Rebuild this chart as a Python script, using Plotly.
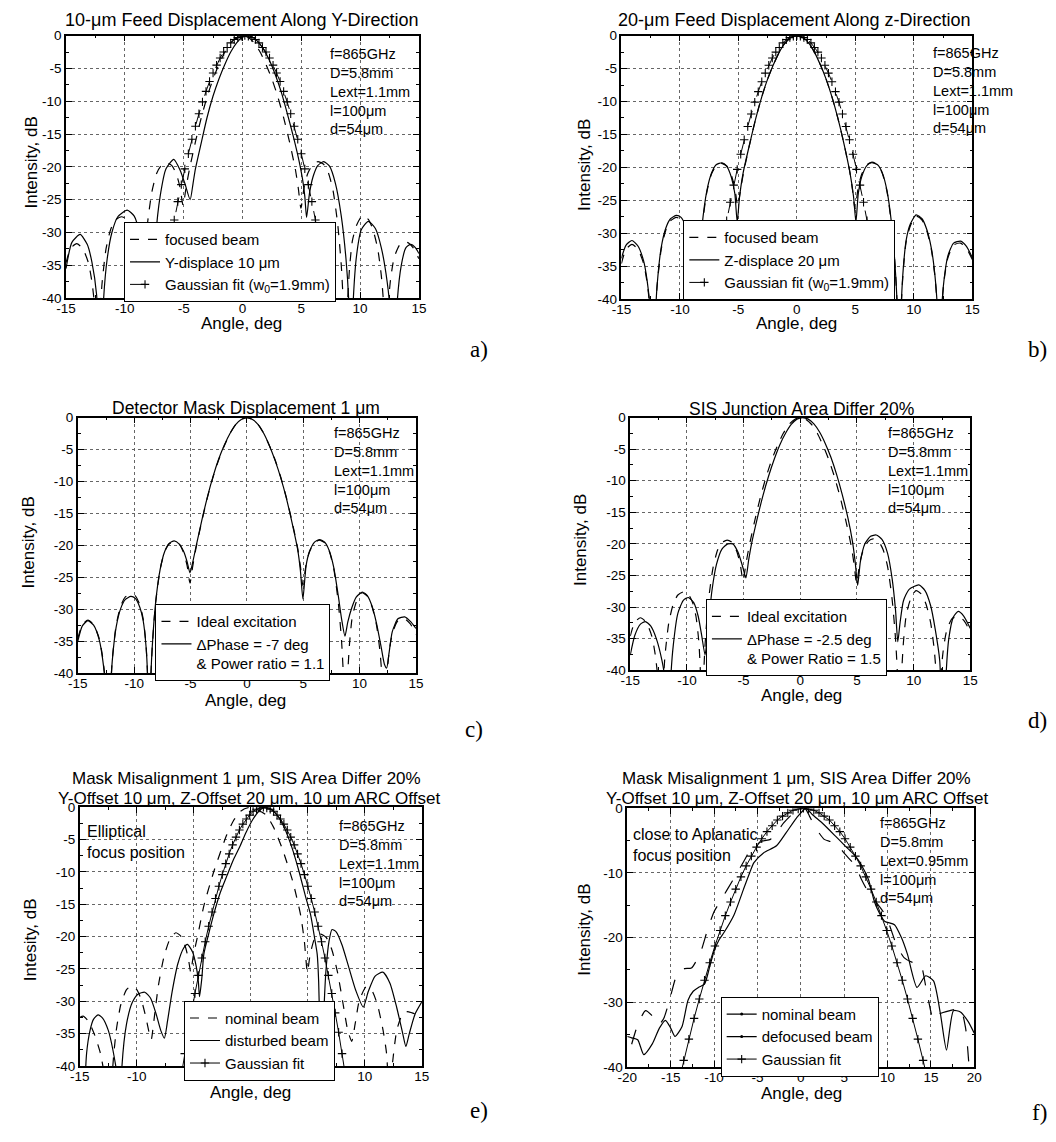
import plotly.graph_objects as go

W, H = 1056, 1142
FONT = "Liberation Sans, Arial, sans-serif"
SERIF = "Liberation Serif, Times New Roman, serif"

# ---------------- data (angle deg, intensity dB) ----------------
ideal_pts = [(-15.0,-34.6),(-14.6,-32.4),(-14.1,-31.7),(-13.6,-32.4),(-13.1,-34.6),(-12.8,-37.5),
             (-12.5,-42.5),(-12.3,-55),(-12.1,-43),(-11.95,-38),(-11.6,-32.5),(-11.2,-29.5),
             (-10.8,-28.1),(-10.3,-27.6),(-9.9,-27.9),(-9.5,-29.3),(-9.2,-31.5),(-8.95,-35.5),
             (-8.8,-41),(-8.7,-55),(-8.55,-42),(-8.4,-36),(-8.1,-29),(-7.7,-23.8),(-7.3,-21.0),
             (-6.9,-19.8),(-6.45,-19.4),(-6.0,-19.8),(-5.6,-21.2),(-5.3,-23.2),(-5.05,-25.9),
             (-4.8,-23.2),(-4.5,-20.3),(-4.0,-16.2),(-3.5,-12.5),(-3.0,-9.3),(-2.5,-6.6),
             (-2.0,-4.4),(-1.5,-2.5),(-1.0,-1.1),(-0.5,-0.3),(0.0,0.0),(0.5,-0.3),(1.0,-1.1),
             (1.5,-2.5),(2.0,-4.4),(2.5,-6.6),(3.0,-9.3),(3.5,-12.5),(4.0,-16.2),(4.5,-20.4),
             (4.75,-23.3),(4.97,-26.3),(5.25,-23.0),(5.55,-21.0),(6.0,-19.6),(6.42,-19.2),
             (6.9,-19.6),(7.3,-20.9),(7.7,-23.6),(8.1,-28.8),(8.4,-35),(8.6,-42),(8.75,-55),
             (8.9,-42),(9.1,-35.5),(9.35,-31.2),(9.7,-28.9),(10.2,-27.4),(10.7,-28.0),
             (11.1,-29.6),(11.5,-32.5),(11.8,-36.5),(12.0,-41),(12.2,-55),(12.4,-41),
             (12.6,-37),(12.9,-33.8),(13.4,-31.8),(14.0,-31.5),(14.5,-32.3),(15.0,-34.0)]

ydisp_a_pts = [(-15.0,-35.5),(-14.5,-31.5),(-13.8,-30.3),(-13.2,-31.8),(-12.8,-34.5),(-12.4,-39.5),
               (-12.05,-55),(-11.8,-40),(-11.5,-34),(-11.1,-30),(-10.6,-27.6),(-9.8,-26.6),
               (-9.2,-27.5),(-8.7,-30.5),(-8.3,-35.5),(-8.05,-42),(-7.9,-55),(-7.7,-41),
               (-7.4,-31),(-7.0,-24.5),(-6.5,-20.3),(-5.84,-18.85),(-5.3,-20.5),(-4.9,-22.5),
               (-4.45,-25.0),(-4.2,-22.5),(-4.0,-20.3),(-3.5,-16.3),(-3.0,-12.4),(-2.5,-9.2),
               (-2.0,-6.6),(-1.5,-4.4),(-1.0,-2.5),(-0.5,-1.1),(0.0,-0.25),(0.4,0.0),(0.8,-0.2),
               (1.3,-0.9),(1.8,-2.1),(2.3,-3.8),(2.8,-6.0),(3.3,-8.6),(3.8,-11.8),(4.3,-15.2),
               (4.8,-19.0),(5.1,-21.8),(5.3,-24.5),(5.45,-27.7),(5.7,-24.0),(6.0,-21.5),
               (6.4,-19.8),(6.9,-19.2),(7.4,-19.9),(7.9,-22.5),(8.4,-27.5),(8.8,-34),(9.05,-41),
               (9.2,-55),(9.4,-41),(9.7,-33.5),(10.1,-29.6),(10.7,-28.3),(11.3,-29.4),
               (11.8,-32.3),(12.3,-37.5),(12.65,-44),(12.9,-55),(13.1,-42),(13.5,-35),
               (13.9,-32.3),(14.3,-31.8),(14.7,-32.3),(15.0,-33.2)]

zdisp_b_pts = [(-15.0,-33.8),(-14.6,-31.8),(-14.1,-31.1),(-13.6,-31.9),(-13.1,-34.2),(-12.8,-37.2),
               (-12.5,-42.5),(-12.3,-55),(-12.1,-43),(-11.95,-38),(-11.6,-32.2),(-11.2,-29.2),
               (-10.8,-27.8),(-10.3,-27.3),(-9.9,-27.6),(-9.5,-29.0),(-9.2,-31.2),(-8.95,-35.3),
               (-8.8,-41),(-8.7,-55),(-8.55,-42),(-8.4,-36),(-8.1,-28.8),(-7.7,-23.6),(-7.3,-20.9),
               (-6.9,-19.6),(-6.4,-19.3),(-6.0,-19.8),(-5.6,-21.5),(-5.3,-24.0),(-5.1,-28.3),
               (-4.9,-24.5),(-4.6,-20.9),(-4.0,-16.2),(-3.5,-12.5),(-3.0,-9.3),(-2.5,-6.6),
               (-2.0,-4.4),(-1.5,-2.5),(-1.0,-1.1),(-0.5,-0.3),(0.0,0.0),(0.5,-0.3),(1.0,-1.1),
               (1.5,-2.5),(2.0,-4.4),(2.5,-6.6),(3.0,-9.3),(3.5,-12.5),(4.0,-16.2),(4.55,-20.9),
               (4.85,-24.5),(5.05,-28.3),(5.25,-24.0),(5.55,-21.4),(6.0,-19.7),(6.4,-19.3),
               (6.9,-19.6),(7.3,-20.8),(7.7,-23.5),(8.1,-28.6),(8.4,-35),(8.6,-42),(8.75,-55),
               (8.9,-42),(9.1,-35.3),(9.35,-31.0),(9.7,-28.6),(10.2,-27.2),(10.7,-27.8),
               (11.1,-29.4),(11.5,-32.3),(11.8,-36.3),(12.0,-41),(12.2,-55),(12.4,-41),
               (12.6,-36.8),(12.9,-33.5),(13.4,-31.5),(14.0,-31.2),(14.5,-32.0),(15.0,-33.7)]

dphase_c_pts = [(-15.0,-35.0),(-14.6,-32.6),(-14.1,-31.8),(-13.6,-32.5),(-13.1,-34.8),(-12.8,-37.8),
                (-12.5,-43),(-12.3,-55),(-12.1,-43),(-11.95,-38.2),(-11.6,-32.8),(-11.2,-29.9),
                (-10.8,-28.5),(-10.3,-28.0),(-9.9,-28.3),(-9.5,-29.7),(-9.2,-31.8),(-8.95,-35.8),
                (-8.8,-41),(-8.7,-55),(-8.55,-42),(-8.4,-36),(-8.1,-29),(-7.7,-23.8),(-7.3,-21.0),
                (-6.9,-19.7),(-6.45,-19.3),(-6.0,-19.8),(-5.6,-21.0),(-5.3,-22.6),(-5.05,-24.3),
                (-4.8,-22.6),(-4.5,-20.1),(-4.0,-16.1),(-3.5,-12.4),(-3.0,-9.2),(-2.5,-6.5),
                (-2.0,-4.3),(-1.5,-2.5),(-1.0,-1.1),(-0.5,-0.3),(0.0,0.0),(0.5,-0.3),(1.0,-1.1),
                (1.5,-2.5),(2.0,-4.4),(2.5,-6.7),(3.0,-9.4),(3.5,-12.6),(4.0,-16.4),(4.5,-20.6),
                (4.75,-24.0),(4.97,-28.4),(5.25,-23.2),(5.55,-21.0),(6.0,-19.5),(6.45,-19.1),
                (6.9,-19.5),(7.3,-20.8),(7.7,-23.4),(8.1,-27.8),(8.4,-31.5),(8.7,-34.2),
                (8.95,-32.0),(9.3,-29.8),(9.7,-28.1),(10.25,-27.3),(10.7,-27.9),(11.1,-29.5),
                (11.5,-32.2),(11.9,-35.8),(12.2,-38.6),(12.4,-39.2),(12.6,-37.0),(12.9,-33.5),
                (13.4,-31.5),(14.0,-31.2),(14.5,-31.9),(15.0,-33.0)]

dphase_d_pts = [(-15.0,-37.6),(-14.6,-34.5),(-14.1,-32.7),(-13.67,-32.3),(-13.2,-33.0),(-12.7,-35.0),
                (-12.2,-38.5),(-11.9,-42),(-11.65,-55),(-11.45,-42),(-11.2,-36),(-10.8,-31),
                (-10.3,-28.9),(-9.86,-28.5),(-9.4,-29.3),(-9.0,-31.5),(-8.7,-34.5),(-8.4,-37.6),
                (-8.15,-33.5),(-7.8,-27.5),(-7.4,-23.3),(-6.9,-20.8),(-6.4,-20.0),(-5.95,-20.0),
                (-5.5,-21.3),(-5.1,-23.5),(-4.8,-25.4),(-4.55,-22.5),(-4.3,-20.0),(-3.8,-16.0),
                (-3.3,-12.4),(-2.8,-9.3),(-2.3,-6.6),(-1.8,-4.3),(-1.3,-2.5),(-0.8,-1.1),
                (-0.3,-0.25),(0.2,0.0),(0.7,-0.25),(1.2,-1.0),(1.7,-2.3),(2.2,-4.1),(2.7,-6.3),
                (3.2,-9.0),(3.7,-12.2),(4.2,-15.9),(4.6,-19.6),(4.85,-23.0),(5.06,-26.6),
                (5.3,-22.8),(5.7,-20.0),(6.2,-18.8),(6.7,-18.6),(7.2,-19.3),(7.7,-21.5),
                (8.1,-25.5),(8.4,-30.5),(8.6,-35.5),(8.8,-32.5),(9.1,-29.0),(9.6,-27.2),
                (10.46,-26.5),(11.0,-27.4),(11.5,-29.8),(11.9,-33.5),(12.3,-38.5),(12.6,-55),
                (12.85,-41),(13.1,-35),(13.5,-31.6),(13.93,-30.7),(14.4,-31.4),(15.0,-33.4)]

nominal_e_pts = [(-15.0,-32.5),(-14.7,-32.3),(-14.2,-33.2),(-13.7,-35.2),(-13.2,-38.0),(-12.8,-42),
                 (-12.4,-55),(-12.1,-40),(-11.8,-34.5),(-11.4,-30.5),(-10.9,-28.2),(-10.45,-27.6),
                 (-10.0,-28.2),(-9.6,-29.8),(-9.2,-32.5),(-8.9,-35.0),(-8.73,-35.9),(-8.5,-33),
                 (-8.1,-27.5),(-7.6,-23.0),(-7.1,-20.4),(-6.57,-19.4),(-6.1,-20.0),(-5.7,-21.8),
                 (-5.45,-23.7),(-5.27,-25.5),(-5.05,-23.0),(-4.7,-20.2),(-4.1,-15.1),(-3.26,-10.0),
                 (-2.6,-6.6),(-2.1,-4.2),(-1.5,-2.0),(-0.9,-0.6),(-0.15,0.0),(0.6,-0.4),(1.35,-1.2),
                 (2.0,-3.1),(2.8,-6.6),(3.7,-11.6),(4.38,-16.8),(4.7,-20.8),(4.96,-25.5),(5.2,-22.8),
                 (5.6,-20.3),(6.1,-19.6),(6.6,-20.1),(7.1,-22.0),(7.6,-25.5),(8.1,-30.5),(8.5,-34.5),
                 (8.85,-36.2),(9.15,-33.5),(9.5,-30.0),(10.1,-27.8),(10.6,-28.3),(11.1,-30.5),
                 (11.6,-34.5),(11.9,-38),(12.16,-45),(12.4,-40),(12.8,-34.5),(13.3,-32.0),
                 (13.75,-31.6),(14.3,-31.9),(15.0,-32.4)]

disturbed_e_pts = [(-14.6,-45),(-14.4,-38),(-14.1,-34.5),(-13.8,-32.8),(-13.4,-32.1),(-13.0,-32.6),
                   (-12.5,-34.5),(-12.1,-37.5),(-11.7,-42),(-11.5,-55),(-11.3,-40),(-10.9,-33.5),
                   (-10.4,-30.2),(-9.9,-28.9),(-9.3,-28.6),(-8.8,-29.5),(-8.3,-32.0),(-7.9,-34.5),
                   (-7.58,-35.7),(-7.3,-33.0),(-6.9,-28.5),(-6.4,-24.2),(-5.9,-21.8),(-5.56,-21.2),
                   (-5.1,-22.4),(-4.8,-24.5),(-4.6,-27.0),(-4.5,-29.3),(-4.3,-26.5),(-4.12,-22.7),
                   (-3.7,-19.6),(-3.26,-16.6),(-2.7,-13.3),(-2.1,-10.6),(-1.5,-8.0),(-0.95,-6.0),
                   (-0.4,-3.8),(0.2,-1.8),(0.7,-0.6),(1.2,0.0),(1.7,-0.2),(2.3,-1.2),(2.9,-3.0),
                   (3.6,-6.2),(4.24,-10.0),(4.8,-13.8),(5.24,-16.6),(5.6,-20.3),(5.82,-22.7),
                   (5.95,-27.0),(6.05,-35.0),(6.12,-55),(6.25,-42),(6.4,-32.0),(6.6,-25.0),
                   (6.85,-20.8),(7.12,-18.9),(7.5,-19.3),(8.0,-21.3),(8.6,-24.8),(9.2,-28.3),
                   (9.86,-30.9),(10.3,-28.5),(10.9,-26.1),(11.58,-25.5),(12.2,-27.2),(12.8,-31.0),
                   (13.3,-34.8),(13.6,-37.0),(13.9,-35.0),(14.4,-32.0),(15.0,-30.1)]

nominal_f_pts = [(-19.5,-36.5),(-18.8,-33.5),(-17.9,-31.3),(-17.2,-32.0),(-16.4,-33.5),(-15.8,-32.5),
                 (-15.1,-29.5),(-14.5,-26.5),(-14.1,-25.2),(-13.4,-24.8),(-12.6,-24.7),(-12.0,-23.5),
                 (-11.5,-22.1),(-10.8,-19.0),(-10.0,-16.0),(-9.2,-14.2),(-8.45,-12.5),(-7.3,-9.9),
                 (-6.4,-7.8),(-5.8,-6.4),(-4.5,-5.1),(-3.5,-4.8),(-2.8,-3.8),(-2.0,-2.3),(-0.9,-0.8),
                 (0.0,-0.15),(0.5,0.0),(1.0,-1.2),(1.7,-3.0),(2.7,-4.8),(3.3,-5.1),(4.0,-5.3),
                 (5.1,-7.1),(6.3,-8.9),(7.0,-11.0),(7.8,-13.0),(8.6,-14.4),(9.5,-16.0),(10.2,-18.0),
                 (11.0,-21.0),(11.9,-23.1),(12.8,-23.8),(13.8,-24.1),(14.4,-27.5),(15.0,-31.5),
                 (15.3,-32.8),(16.0,-31.8),(17.2,-31.3),(18.4,-31.0),(19.0,-34.0),(19.4,-40),(19.6,-45)]

defocused_f_pts = [(-20.0,-35.3),(-19.5,-35.5),(-18.8,-35.8),(-18.1,-38.1),(-17.1,-36.4),(-16.3,-34.0),
                   (-15.6,-32.8),(-15.0,-34.0),(-14.5,-35.3),(-13.7,-33.8),(-13.0,-29.7),(-12.4,-28.3),
                   (-11.8,-27.7),(-11.1,-27.2),(-10.5,-24.5),(-10.0,-22.1),(-9.4,-20.3),(-8.8,-19.1),
                   (-7.7,-16.5),(-6.6,-12.5),(-5.9,-10.0),(-5.4,-8.4),(-4.3,-6.9),(-2.8,-5.8),
                   (-1.7,-3.8),(-0.5,-1.5),(0.6,0.0),(1.36,-1.0),(2.5,-2.3),(4.0,-4.3),(5.1,-5.8),
                   (6.3,-7.4),(7.0,-8.8),(7.8,-11.0),(8.5,-14.5),(9.1,-16.3),(9.7,-17.5),(10.8,-18.0),
                   (11.6,-20.0),(12.3,-22.6),(13.4,-27.7),(14.4,-25.9),(15.3,-26.7),(16.1,-31.8),
                   (16.8,-37.4),(17.6,-31.3),(18.4,-31.5),(19.3,-33.0),(20.0,-34.8)]

gauss_a_x = [-7.0,-6.7,-6.4,-6.1,-5.8,-5.5,-5.2,-4.9,-4.6,-4.3,-4.0,-3.7,-3.4,-3.1,-2.8,-2.5,-2.2,
             -1.9,-1.6,-1.3,-1.0,-0.7,-0.4,-0.1,0.2,0.5,0.8,1.1,1.4,1.7,2.0,2.3,2.6,2.9,3.2,3.5,3.8,
             4.1,4.4,4.7,5.0,5.3,5.6,5.9,6.2,6.5,6.8,7.1,7.4]
gauss_a_y = [-40.4,-37.1,-34.0,-31.0,-28.1,-25.3,-22.7,-20.3,-18.0,-15.8,-13.8,-11.9,-10.1,-8.5,-7.0,
             -5.7,-4.5,-3.4,-2.5,-1.8,-1.1,-0.6,-0.3,-0.1,0.0,-0.1,-0.3,-0.6,-1.1,-1.8,-2.5,-3.4,-4.5,
             -5.7,-7.0,-8.5,-10.1,-11.9,-13.8,-15.8,-18.0,-20.3,-22.7,-25.3,-28.1,-31.0,-34.0,-37.1,-40.4]

gauss_b_x = [-7.2,-6.9,-6.6,-6.3,-6.0,-5.7,-5.4,-5.1,-4.8,-4.5,-4.2,-3.9,-3.6,-3.3,-3.0,-2.7,-2.4,
             -2.1,-1.8,-1.5,-1.2,-0.9,-0.6,-0.3,0.0,0.3,0.6,0.9,1.2,1.5,1.8,2.1,2.4,2.7,3.0,3.3,3.6,
             3.9,4.2,4.5,4.8,5.1,5.4,5.7,6.0,6.3,6.6,6.9,7.2]
gauss_b_y = [-40.4,-37.1,-34.0,-31.0,-28.1,-25.3,-22.7,-20.3,-18.0,-15.8,-13.8,-11.9,-10.1,-8.5,-7.0,
             -5.7,-4.5,-3.4,-2.5,-1.8,-1.1,-0.6,-0.3,-0.1,0.0,-0.1,-0.3,-0.6,-1.1,-1.8,-2.5,-3.4,-4.5,
             -5.7,-7.0,-8.5,-10.1,-11.9,-13.8,-15.8,-18.0,-20.3,-22.7,-25.3,-28.1,-31.0,-34.0,-37.1,-40.4]

gauss_e_x = [-6.1,-5.8,-5.5,-5.2,-4.9,-4.6,-4.3,-4.0,-3.7,-3.4,-3.1,-2.8,-2.5,-2.2,-1.9,-1.6,-1.3,
             -1.0,-0.7,-0.4,-0.1,0.2,0.5,0.8,1.1,1.4,1.7,2.0,2.3,2.6,2.9,3.2,3.5,3.8,4.1,4.4,4.7,
             5.0,5.3,5.6,5.9,6.2,6.5,6.8,7.1,7.4,7.7,8.0,8.3]
gauss_e_y = [-41.5,-38.1,-34.8,-31.8,-28.8,-26.0,-23.3,-20.8,-18.4,-16.2,-14.1,-12.2,-10.4,-8.7,-7.2,
             -5.8,-4.6,-3.5,-2.6,-1.8,-1.2,-0.6,-0.3,-0.1,0.0,-0.1,-0.3,-0.6,-1.2,-1.8,-2.6,-3.5,-4.6,
             -5.8,-7.2,-8.7,-10.4,-12.2,-14.1,-16.2,-18.4,-20.8,-23.3,-26.0,-28.8,-31.8,-34.8,-38.1,-41.5]

gauss_f_x = [-14.1,-13.5,-12.9,-12.3,-11.7,-11.1,-10.5,-9.9,-9.3,-8.7,-8.1,-7.5,-6.9,-6.3,-5.7,-5.1,
             -4.5,-3.9,-3.3,-2.7,-2.1,-1.5,-0.9,-0.3,0.3,0.9,1.5,2.1,2.7,3.3,3.9,4.5,5.1,5.7,6.3,6.9,
             7.5,8.1,8.7,9.3,9.9,10.5,11.1,11.7,12.3,12.9,13.5,14.1,14.7]
gauss_f_y = [-42.5,-39.0,-35.7,-32.5,-29.5,-26.6,-23.9,-21.3,-18.9,-16.6,-14.5,-12.5,-10.6,-8.9,-7.4,
             -6.0,-4.7,-3.6,-2.7,-1.8,-1.2,-0.7,-0.3,-0.1,0.0,-0.1,-0.3,-0.7,-1.2,-1.8,-2.7,-3.6,-4.7,
             -6.0,-7.4,-8.9,-10.6,-12.5,-14.5,-16.6,-18.9,-21.3,-23.9,-26.6,-29.5,-32.5,-35.7,-39.0,-42.5]

x_ticks_15 = [-15, -10, -5, 0, 5, 10, 15]
x_ticks_20 = [-20, -15, -10, -5, 0, 5, 10, 15, 20]
y_ticks_5 = [0, -5, -10, -15, -20, -25, -30, -35, -40]
y_ticks_10 = [0, -10, -20, -30, -40]

params_std = "f=865GHz<br>D=5.8mm<br>Lext=1.1mm<br>l=100μm<br>d=54μm"
params_f = "f=865GHz<br>D=5.8mm<br>Lext=0.95mm<br>l=100μm<br>d=54μm"

# ---------------- layout helpers ----------------
boxes = {1: (57, 416, 29, 295), 2: (622, 979, 29, 296), 3: (69, 413, 416, 675),
         4: (631, 977, 416, 672), 5: (71, 419, 811, 1073), 6: (628, 981, 812, 1074)}


def PX(x):
    return x / W


def PY(y):
    return 1 - y / H


def unzip(pts):
    return [p[0] for p in pts], [p[1] for p in pts]


def minor_vals(lo, hi, step):
    out = []
    v = lo
    while v <= hi + 1e-9:
        out.append(round(v, 3))
        v += step
    return out


fig = go.Figure()
layout = dict(width=W, height=H, margin=dict(l=0, r=0, t=0, b=0),
              paper_bgcolor='white', plot_bgcolor='white', showlegend=True,
              font=dict(family=FONT, color='black'))

for i, (l, r, t, b) in boxes.items():
    xs = '' if i == 1 else str(i)
    if i == 6:
        xt, xmin, yt, ymin = x_ticks_20, minor_vals(-20, 20, 2.5), y_ticks_10, minor_vals(-40, 0, 5)
        xr = [-20, 20]
    else:
        xt, xmin, yt, ymin = x_ticks_15, minor_vals(-15, 15, 2.5), y_ticks_5, minor_vals(-40, 0, 2.5)
        xr = [-15, 15]
    common = dict(showline=True, linecolor='black', linewidth=1.5, mirror='allticks',
                  ticks='inside', ticklen=6, tickwidth=1, tickcolor='black',
                  showgrid=True, gridcolor='#666666', griddash='dot', gridwidth=1,
                  zeroline=False, tickfont=dict(family=FONT, size=13.5, color='black'),
                  tickmode='array')
    layout['xaxis' + xs] = dict(common, domain=[PX(l), PX(r)], anchor='y' + xs, range=xr,
                                tickvals=xt, ticktext=[str(v) for v in xt], ticklabelstandoff=-3,
                                minor=dict(tickmode='array', tickvals=xmin, ticks='inside',
                                           ticklen=3, tickcolor='black', showgrid=False))
    layout['yaxis' + xs] = dict(common, domain=[PY(b), PY(t)], anchor='x' + xs, range=[-40, 0],
                                tickvals=yt, ticktext=[str(v) for v in yt],
                                minor=dict(tickmode='array', tickvals=ymin, ticks='inside',
                                           ticklen=3, tickcolor='black', showgrid=False))


def legend_box(x, y):
    return dict(x=PX(x), y=PY(y), xanchor='left', yanchor='top', bgcolor='white',
                bordercolor='black', borderwidth=1, tracegroupgap=0, itemwidth=30,
                valign='top', traceorder='normal',
                font=dict(family=FONT, size=15, color='black'))


layout['legend'] = legend_box(116, 218)
layout['legend2'] = legend_box(685, 216)
layout['legend3'] = legend_box(148, 605)
layout['legend4'] = legend_box(708, 600)
layout['legend5'] = legend_box(177, 1007)
layout['legend6'] = legend_box(723, 1003)


def add_curve(i, x, y, name, dash='solid', spline=True, showlegend=True):
    xs = '' if i == 1 else str(i)
    fig.add_trace(go.Scatter(x=x, y=y, name=name, mode='lines',
                             line=dict(color='black', width=1.2, dash=dash,
                                       shape='spline' if spline else 'linear', smoothing=0.6),
                             xaxis='x' + xs, yaxis='y' + xs,
                             legend='legend' + xs, showlegend=showlegend))


def add_gauss(i, x, y, name, dash):
    xs = '' if i == 1 else str(i)
    fig.add_trace(go.Scatter(x=x, y=y, name=name, mode='lines+markers',
                             line=dict(color='black', width=1, dash=dash),
                             marker=dict(symbol='cross-thin', size=6, color='black',
                                         line=dict(color='black', width=1.1)),
                             xaxis='x' + xs, yaxis='y' + xs, legend='legend' + xs))


# panel a
x, y = unzip(ideal_pts)
add_curve(1, x, y, 'focused beam', 'dash')
x, y = unzip(ydisp_a_pts)
add_curve(1, x, y, 'Y-displace 10 μm')
add_gauss(1, gauss_a_x, gauss_a_y, 'Gaussian fit (w<sub>0</sub>=1.9mm)', 'longdash')
# panel b
x, y = unzip(ideal_pts)
add_curve(2, x, y, 'focused beam', 'dash')
x, y = unzip(zdisp_b_pts)
add_curve(2, x, y, 'Z-displace 20 μm')
add_gauss(2, gauss_b_x, gauss_b_y, 'Gaussian fit (w<sub>0</sub>=1.9mm)', 'longdash')
# panel c
x, y = unzip(ideal_pts)
add_curve(3, x, y, 'Ideal excitation', 'dash')
x, y = unzip(dphase_c_pts)
add_curve(3, x, y, 'ΔPhase = -7 deg<br>& Power ratio = 1.1')
# panel d
x, y = unzip(ideal_pts)
add_curve(4, x, y, 'Ideal excitation', 'dash')
x, y = unzip(dphase_d_pts)
add_curve(4, x, y, 'ΔPhase = -2.5 deg<br>& Power Ratio = 1.5')
# panel e
x, y = unzip(nominal_e_pts)
add_curve(5, x, y, 'nominal beam', 'dash')
x, y = unzip(disturbed_e_pts)
add_curve(5, x, y, 'disturbed beam')
add_gauss(5, gauss_e_x, gauss_e_y, 'Gaussian fit', 'solid')
# panel f
x, y = unzip(nominal_f_pts)
add_curve(6, x, y, 'nominal beam', 'longdash', showlegend=False)
x, y = unzip(defocused_f_pts)
add_curve(6, x, y, 'defocused beam', showlegend=False)
for nm in ['nominal beam', 'defocused beam']:
    fig.add_trace(go.Scatter(x=[None], y=[None], name=nm, mode='lines+markers',
                             line=dict(color='black', width=1.2),
                             marker=dict(symbol='circle', size=3, color='black'),
                             xaxis='x6', yaxis='y6', legend='legend6'))
add_gauss(6, gauss_f_x, gauss_f_y, 'Gaussian fit', 'solid')

# ---------------- annotations ----------------
ann = []


def text(x, y, s, size, xanchor='center', yanchor='middle', align='center', family=FONT, angle=0):
    ann.append(dict(x=PX(x), y=PY(y), xref='paper', yref='paper', text=s, showarrow=False,
                    xanchor=xanchor, yanchor=yanchor, align=align, textangle=angle,
                    font=dict(family=family, size=size, color='black')))


# titles
text(236, 13, '10-μm Feed Displacement Along Y-Direction', 18)
text(798, 13, '20-μm Feed Displacement Along z-Direction', 18)
text(240, 406, 'Detector Mask Displacement 1 μm', 17.5)
text(805, 407, 'SIS Junction Area Differ 20%', 17.5)
text(241, 782, 'Mask Misalignment 1 μm, SIS Area Differ 20%', 17)
text(243, 802, 'Y-Offset 10 μm, Z-Offset 20 μm, 10 μm ARC Offset', 17)
text(800, 782, 'Mask Misalignment 1 μm, SIS Area Differ 20%', 17)
text(801, 802, 'Y-Offset 10 μm, Z-Offset 20 μm, 10 μm ARC Offset', 17)

# parameter blocks
for (px_, py_, s) in [(324, 37, params_std), (937, 36, params_std), (328, 422, params_std),
                      (891, 422, params_std), (333, 820, params_std), (883, 817, params_f)]:
    text(px_, py_, s, 14.5, xanchor='left', yanchor='top', align='left')

# notes
text(76, 825, 'Elliptical<br>focus position', 16, xanchor='left', yanchor='top', align='left')
text(632, 828, 'close to Aplanatic<br>focus position', 16, xanchor='left', yanchor='top', align='left')

# axis titles
for (xx, yy, s) in [(22, 158, 'Intensity, dB'), (585, 160, 'Intensity, dB'),
                    (19, 543, 'Intensity, dB'), (581, 540, 'Intensity, dB'),
                    (21, 945, 'Intesity, dB'), (585, 935, 'Intensity, dB')]:
    text(xx, yy, s, 17, angle=-90)
for (xx, yy) in [(236, 321), (800, 321), (240, 703), (805, 698), (245, 1100), (805, 1101)]:
    text(xx, yy, 'Angle, deg', 17)

# panel labels
for (xx, yy, s) in [(477, 347, 'a)'), (1045, 347, 'b)'), (472, 732, 'c)'),
                    (1045, 723, 'd)'), (477, 1118, 'e)'), (1047, 1120, 'f)')]:
    text(xx, yy, s, 23, family=SERIF)

layout['annotations'] = ann
fig.update_layout(**layout)
fig.write_html("out.html", config={'displayModeBar': False},
               post_script="document.body.style.margin='0px';document.body.style.overflow='hidden';")
